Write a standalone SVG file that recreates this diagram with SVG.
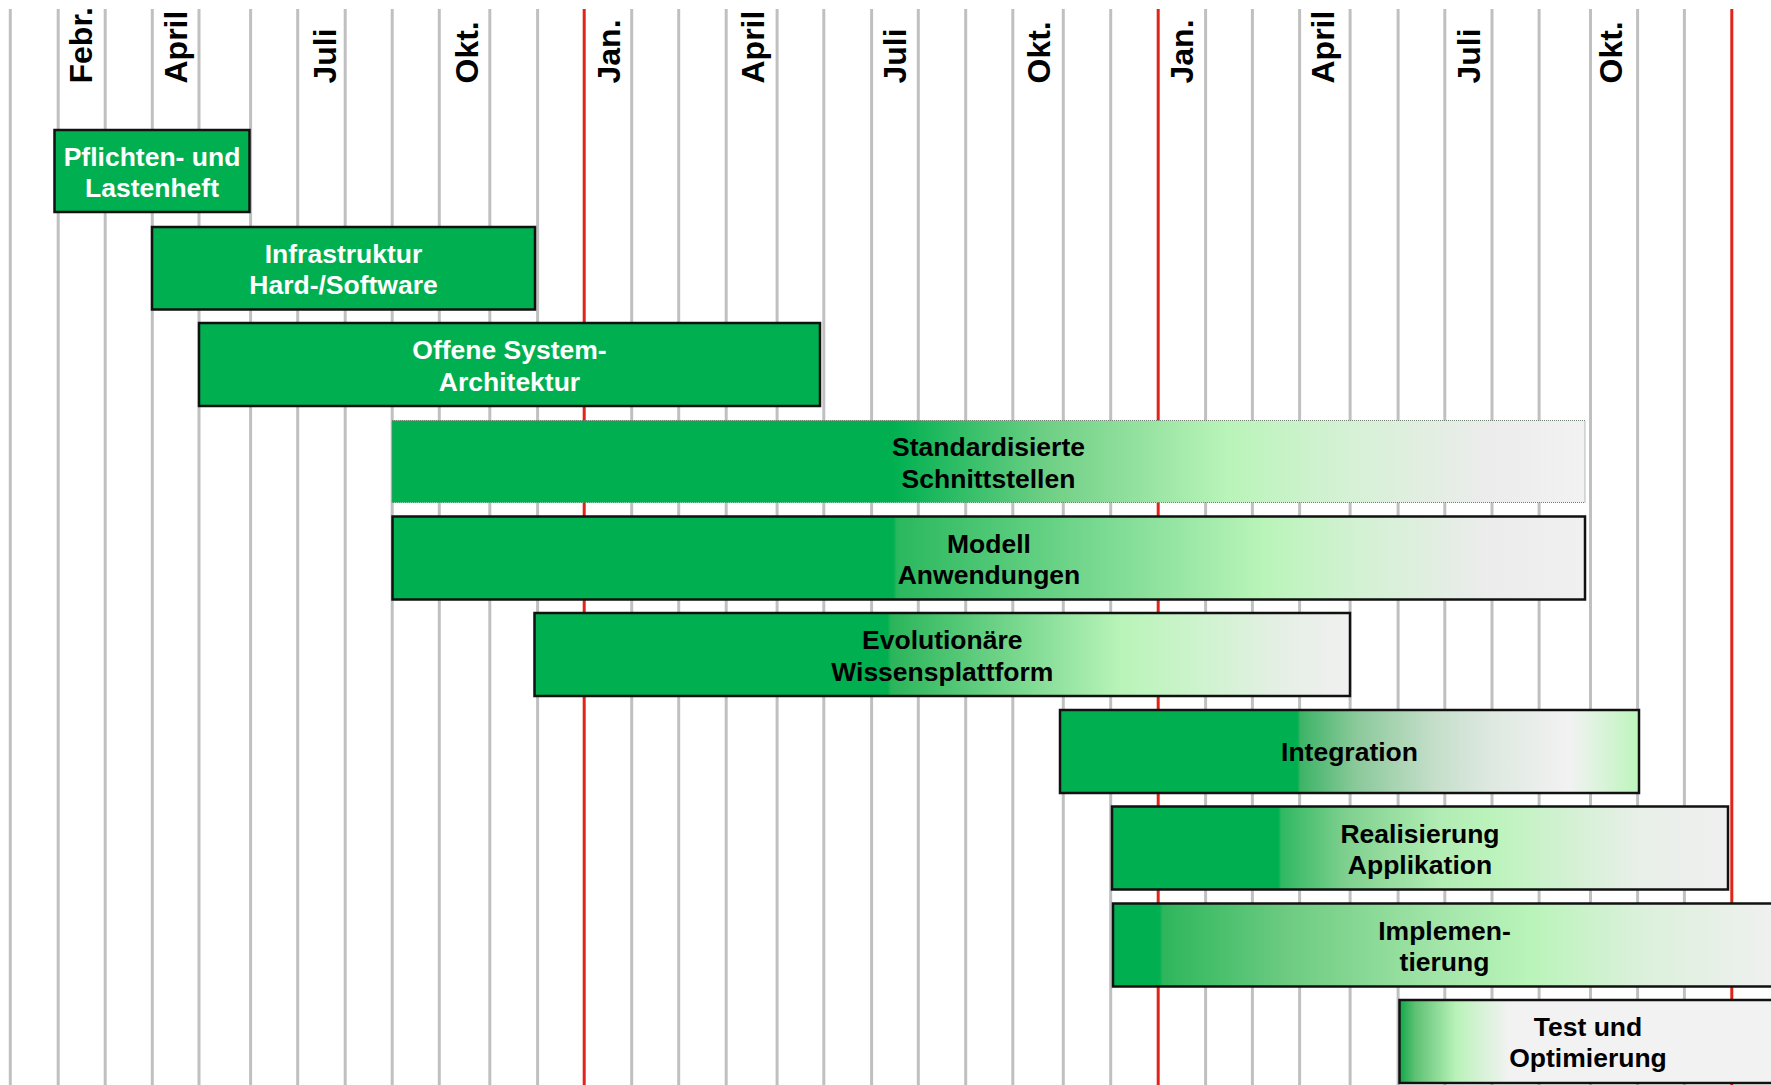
<svg xmlns="http://www.w3.org/2000/svg" width="1771" height="1085" viewBox="0 0 1771 1085">
<style>
.grid{stroke:#c0c0c0;stroke-width:3}
.red{stroke:#e2231a;stroke-width:3}
.month{font-family:"Liberation Sans",Arial,sans-serif;font-weight:bold;font-size:32px;fill:#000}
.box{stroke:#111;stroke-width:2.5}
.dot{stroke:#6f7f70;stroke-width:1;stroke-dasharray:1 1}
.lbl{font-family:"Liberation Sans",Arial,sans-serif;font-weight:bold;font-size:26.5px;text-anchor:middle}
.w{fill:#fff}
.k{fill:#000}
</style>
<defs>
<linearGradient id="g4" x1="0" y1="0" x2="1" y2="0">
<stop offset="0" stop-color="#00b050"/><stop offset="0.42" stop-color="#00b050"/>
<stop offset="0.55" stop-color="#6fcf85"/><stop offset="0.70" stop-color="#b9f4b9"/><stop offset="0.80" stop-color="#d5f1d5"/><stop offset="0.92" stop-color="#ececec"/><stop offset="1" stop-color="#f2f2f2"/>
</linearGradient>
<linearGradient id="g5" x1="0" y1="0" x2="1" y2="0">
<stop offset="0" stop-color="#00b050"/><stop offset="0.42" stop-color="#00b050"/><stop offset="0.423" stop-color="#2ab85e"/>
<stop offset="0.73" stop-color="#b9f4b9"/><stop offset="0.81" stop-color="#d3f1d3"/><stop offset="0.92" stop-color="#ececec"/><stop offset="1" stop-color="#f0f0f0"/>
</linearGradient>
<linearGradient id="g6" x1="0" y1="0" x2="1" y2="0">
<stop offset="0" stop-color="#00b050"/><stop offset="0.433" stop-color="#00b050"/><stop offset="0.437" stop-color="#2ab55a"/>
<stop offset="0.72" stop-color="#b9f4b9"/><stop offset="0.82" stop-color="#cff3cf"/><stop offset="0.92" stop-color="#e6efe6"/><stop offset="1" stop-color="#f0f0f0"/>
</linearGradient>
<linearGradient id="g7" x1="0" y1="0" x2="1" y2="0">
<stop offset="0" stop-color="#00b050"/><stop offset="0.41" stop-color="#00b050"/><stop offset="0.415" stop-color="#3cb466"/>
<stop offset="0.51" stop-color="#8ac99a"/><stop offset="0.645" stop-color="#c4dec9"/><stop offset="0.74" stop-color="#dde8e0"/>
<stop offset="0.88" stop-color="#f2f2f2"/><stop offset="1" stop-color="#bdf5bd"/>
</linearGradient>
<linearGradient id="g8" x1="0" y1="0" x2="1" y2="0">
<stop offset="0" stop-color="#00b050"/><stop offset="0.27" stop-color="#00b050"/><stop offset="0.275" stop-color="#30b862"/>
<stop offset="0.38" stop-color="#7fd08e"/><stop offset="0.53" stop-color="#b0ecb3"/><stop offset="0.62" stop-color="#bcf3bc"/>
<stop offset="0.74" stop-color="#d3f1d3"/><stop offset="0.86" stop-color="#e9efe9"/><stop offset="1" stop-color="#efefef"/>
</linearGradient>
<linearGradient id="g9" x1="0" y1="0" x2="1" y2="0">
<stop offset="0" stop-color="#00b050"/><stop offset="0.07" stop-color="#00b050"/><stop offset="0.075" stop-color="#2db65c"/>
<stop offset="0.27" stop-color="#6fcc82"/><stop offset="0.5" stop-color="#a4e6aa"/><stop offset="0.63" stop-color="#b9f4b9"/>
<stop offset="0.8" stop-color="#dcf0dc"/><stop offset="1" stop-color="#f0f0f0"/>
</linearGradient>
<linearGradient id="g10" x1="0" y1="0" x2="1" y2="0">
<stop offset="0" stop-color="#10a848"/><stop offset="0.04" stop-color="#5cc072"/><stop offset="0.15" stop-color="#b8f2b8"/>
<stop offset="0.21" stop-color="#d4f2d4"/><stop offset="0.29" stop-color="#f2f2f2"/><stop offset="1" stop-color="#f2f2f2"/>
</linearGradient>
</defs>
<rect x="0" y="0" width="1771" height="1085" fill="#fff"/>
<g id="gridlines">
<line class="grid" x1="10.3" y1="9" x2="10.3" y2="1085"/>
<line class="grid" x1="58.2" y1="9" x2="58.2" y2="1085"/>
<line class="grid" x1="105.2" y1="9" x2="105.2" y2="1085"/>
<line class="grid" x1="152.3" y1="9" x2="152.3" y2="1085"/>
<line class="grid" x1="199" y1="9" x2="199" y2="1085"/>
<line class="grid" x1="250.6" y1="9" x2="250.6" y2="1085"/>
<line class="grid" x1="297.7" y1="9" x2="297.7" y2="1085"/>
<line class="grid" x1="345.2" y1="9" x2="345.2" y2="1085"/>
<line class="grid" x1="392.2" y1="9" x2="392.2" y2="1085"/>
<line class="grid" x1="439.3" y1="9" x2="439.3" y2="1085"/>
<line class="grid" x1="489.8" y1="9" x2="489.8" y2="1085"/>
<line class="grid" x1="537.6" y1="9" x2="537.6" y2="1085"/>
<line class="grid" x1="631.7" y1="9" x2="631.7" y2="1085"/>
<line class="grid" x1="678.7" y1="9" x2="678.7" y2="1085"/>
<line class="grid" x1="726.2" y1="9" x2="726.2" y2="1085"/>
<line class="grid" x1="777.1" y1="9" x2="777.1" y2="1085"/>
<line class="grid" x1="823.8" y1="9" x2="823.8" y2="1085"/>
<line class="grid" x1="871.6" y1="9" x2="871.6" y2="1085"/>
<line class="grid" x1="918.3" y1="9" x2="918.3" y2="1085"/>
<line class="grid" x1="965.7" y1="9" x2="965.7" y2="1085"/>
<line class="grid" x1="1012.8" y1="9" x2="1012.8" y2="1085"/>
<line class="grid" x1="1063.3" y1="9" x2="1063.3" y2="1085"/>
<line class="grid" x1="1110.7" y1="9" x2="1110.7" y2="1085"/>
<line class="grid" x1="1205.6" y1="9" x2="1205.6" y2="1085"/>
<line class="grid" x1="1252.4" y1="9" x2="1252.4" y2="1085"/>
<line class="grid" x1="1299.6" y1="9" x2="1299.6" y2="1085"/>
<line class="grid" x1="1350.1" y1="9" x2="1350.1" y2="1085"/>
<line class="grid" x1="1398.1" y1="9" x2="1398.1" y2="1085"/>
<line class="grid" x1="1444.8" y1="9" x2="1444.8" y2="1085"/>
<line class="grid" x1="1492" y1="9" x2="1492" y2="1085"/>
<line class="grid" x1="1539.1" y1="9" x2="1539.1" y2="1085"/>
<line class="grid" x1="1590.5" y1="9" x2="1590.5" y2="1085"/>
<line class="grid" x1="1637.6" y1="9" x2="1637.6" y2="1085"/>
<line class="grid" x1="1684.4" y1="9" x2="1684.4" y2="1085"/>
<line class="red" x1="584.2" y1="9" x2="584.2" y2="1085"/>
<line class="red" x1="1158.2" y1="9" x2="1158.2" y2="1085"/>
<line class="red" x1="1731.8" y1="9" x2="1731.8" y2="1085"/>
</g>
<g id="months">
<text class="month" transform="translate(91.5,83.5) rotate(-90)">Febr.</text>
<text class="month" transform="translate(187,83.5) rotate(-90)">April</text>
<text class="month" transform="translate(336,83.5) rotate(-90)">Juli</text>
<text class="month" transform="translate(478,83.5) rotate(-90)">Okt.</text>
<text class="month" transform="translate(620,83.5) rotate(-90)">Jan.</text>
<text class="month" transform="translate(764,83.5) rotate(-90)">April</text>
<text class="month" transform="translate(906,83.5) rotate(-90)">Juli</text>
<text class="month" transform="translate(1050,83.5) rotate(-90)">Okt.</text>
<text class="month" transform="translate(1193,83.5) rotate(-90)">Jan.</text>
<text class="month" transform="translate(1334,83.5) rotate(-90)">April</text>
<text class="month" transform="translate(1480,83.5) rotate(-90)">Juli</text>
<text class="month" transform="translate(1621.5,83.5) rotate(-90)">Okt.</text>
</g>
<g id="connectors"/>
<g id="pflichtenheft">
<rect class="box" x="54.5" y="130" width="195" height="82" fill="#00b050"/>
<text class="lbl w" x="152" y="165.5">Pflichten- und</text>
<text class="lbl w" x="152" y="197">Lastenheft</text>
</g>
<g id="infrastruktur">
<rect class="box" x="152" y="227" width="383" height="82.5" fill="#00b050"/>
<text class="lbl w" x="343.5" y="262.5">Infrastruktur</text>
<text class="lbl w" x="343.5" y="294">Hard-/Software</text>
</g>
<g id="systemarchitektur">
<rect class="box" x="199" y="323" width="621" height="83" fill="#00b050"/>
<text class="lbl w" x="509.5" y="359">Offene System-</text>
<text class="lbl w" x="509.5" y="390.5">Architektur</text>
</g>
<g id="schnittstellen">
<rect class="dot" x="392" y="420.5" width="1193" height="82" fill="url(#g4)"/>
<text class="lbl k" x="988.5" y="456">Standardisierte</text>
<text class="lbl k" x="988.5" y="487.5">Schnittstellen</text>
</g>
<g id="modell">
<rect class="box" x="392.5" y="516.5" width="1192.5" height="83" fill="url(#g5)"/>
<text class="lbl k" x="989" y="552.5">Modell</text>
<text class="lbl k" x="989" y="584">Anwendungen</text>
</g>
<g id="wissensplattform">
<rect class="box" x="534.5" y="613" width="815.5" height="83" fill="url(#g6)"/>
<text class="lbl k" x="942.3" y="649">Evolutionäre</text>
<text class="lbl k" x="942.3" y="680.5">Wissensplattform</text>
</g>
<g id="integration">
<rect class="box" x="1060" y="710" width="579" height="83" fill="url(#g7)"/>
<text class="lbl k" x="1349.5" y="761">Integration</text>
</g>
<g id="realisierung">
<rect class="box" x="1112" y="806.5" width="616" height="83" fill="url(#g8)"/>
<text class="lbl k" x="1420" y="842.5">Realisierung</text>
<text class="lbl k" x="1420" y="874">Applikation</text>
</g>
<g id="implementierung">
<rect class="box" x="1113" y="903.5" width="663" height="83" fill="url(#g9)"/>
<text class="lbl k" x="1444.5" y="939.5">Implemen-</text>
<text class="lbl k" x="1444.5" y="971">tierung</text>
</g>
<g id="test">
<rect class="box" x="1399.5" y="1000" width="377" height="83" fill="url(#g10)"/>
<text class="lbl k" x="1588" y="1035.5">Test und</text>
<text class="lbl k" x="1588" y="1066.5">Optimierung</text>
</g>
</svg>
